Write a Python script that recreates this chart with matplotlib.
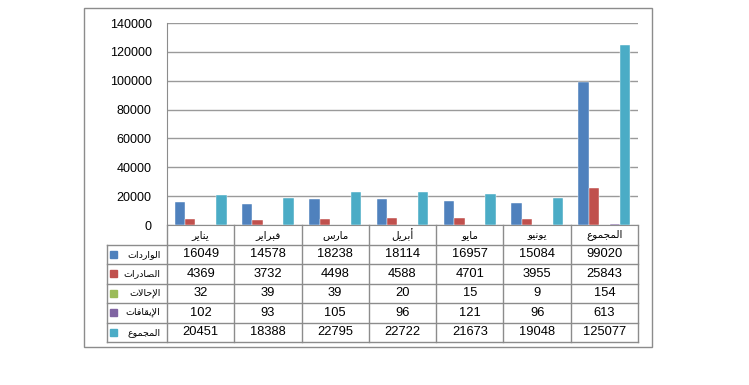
import matplotlib
matplotlib.use('Agg')
import matplotlib.pyplot as plt
import numpy as np

months = ['يناير', 'فبراير', 'مارس', 'أبريل', 'مايو', 'يونيو', 'المجموع']
series = ['الواردات', 'الصادرات', 'الإحالات', 'الإيقافات', 'المجموع']
imports = [16049, 14578, 18238, 18114, 16957, 15084, 99020]
exports = [4369, 3732, 4498, 4588, 4701, 3955, 25843]
referrals = [32, 39, 39, 20, 15, 9, 154]
stops = [102, 93, 105, 96, 121, 96, 613]
totals = [20451, 18388, 22795, 22722, 21673, 19048, 125077]
colors = ['#4F81BD', '#C0504D', '#9BBB59', '#8064A2', '#4BACC6']

# matplotlib has no arabic shaping, so do it by hand with presentation forms
FORMS = {
    'ا': ('\uFE8D', '\uFE8E', None, None),
    'أ': ('\uFE83', '\uFE84', None, None),
    'إ': ('\uFE87', '\uFE88', None, None),
    'ب': ('\uFE8F', '\uFE90', '\uFE91', '\uFE92'),
    'ت': ('\uFE95', '\uFE96', '\uFE97', '\uFE98'),
    'ج': ('\uFE9D', '\uFE9E', '\uFE9F', '\uFEA0'),
    'ح': ('\uFEA1', '\uFEA2', '\uFEA3', '\uFEA4'),
    'د': ('\uFEA9', '\uFEAA', None, None),
    'ر': ('\uFEAD', '\uFEAE', None, None),
    'س': ('\uFEB1', '\uFEB2', '\uFEB3', '\uFEB4'),
    'ص': ('\uFEB9', '\uFEBA', '\uFEBB', '\uFEBC'),
    'ع': ('\uFEC9', '\uFECA', '\uFECB', '\uFECC'),
    'ف': ('\uFED1', '\uFED2', '\uFED3', '\uFED4'),
    'ق': ('\uFED5', '\uFED6', '\uFED7', '\uFED8'),
    'ل': ('\uFEDD', '\uFEDE', '\uFEDF', '\uFEE0'),
    'م': ('\uFEE1', '\uFEE2', '\uFEE3', '\uFEE4'),
    'ن': ('\uFEE5', '\uFEE6', '\uFEE7', '\uFEE8'),
    'و': ('\uFEED', '\uFEEE', None, None),
    'ي': ('\uFEF1', '\uFEF2', '\uFEF3', '\uFEF4'),
    'لا': ('\uFEFB', '\uFEFC', None, None),
    'لأ': ('\uFEF7', '\uFEF8', None, None),
    'لإ': ('\uFEF9', '\uFEFA', None, None),
}


def shape(word):
    toks = []
    i = 0
    while i < len(word):
        if word[i] == 'ل' and i + 1 < len(word) and word[i:i + 2] in FORMS:
            toks.append(word[i:i + 2])
            i += 2
        else:
            toks.append(word[i])
            i += 1
    out = []
    for k, t in enumerate(toks):
        f = FORMS[t]
        prev = k > 0 and FORMS[toks[k - 1]][2] is not None
        nxt = k < len(toks) - 1 and f[2] is not None
        if prev and nxt:
            out.append(f[3])
        elif prev:
            out.append(f[1])
        elif nxt:
            out.append(f[2])
        else:
            out.append(f[0])
    return ''.join(out[::-1])


plt.rcParams['font.family'] = ['Liberation Sans', 'DejaVu Sans']

W, H = 749, 385
fig = plt.figure(figsize=(W / 100, H / 100), dpi=100)

# outer chart frame
fig.patches.append(plt.Rectangle((84 / W, 1 - 347 / H), 568 / W, 339 / H,
                                 transform=fig.transFigure, fill=False,
                                 edgecolor='#8c8c8c', lw=1))

ax = fig.add_axes([167 / W, 1 - 225 / H, 471 / W, 202 / H])
data = [imports, exports, referrals, stops, totals]
x = np.arange(len(months))
bw = 1 / 6.5
for k, vals in enumerate(data):
    ax.bar(x + (k - 2) * bw, vals, bw, color=colors[k], edgecolor='white', lw=0.3, zorder=3)
ax.set_xlim(-0.5, len(months) - 0.5)
ax.set_ylim(0, 140000)
ax.set_yticks(np.arange(0, 140001, 20000))
ax.set_xticks([])
ax.grid(axis='y', color='#9a9a9a', lw=1)
for s in ['top', 'right']:
    ax.spines[s].set_visible(False)
ax.spines['left'].set_color('#8c8c8c')
ax.spines['bottom'].set_color('#8c8c8c')
ax.tick_params(axis='y', length=0, pad=11, labelsize=9)

# data table under the plot
lw_col = 60 / 67.3
tx = fig.add_axes([107 / W, 1 - 342 / H, 531 / W, 117 / H])
tx.set_xlim(-0.5 - lw_col, len(months) - 0.5)
tx.set_ylim(6, 0)
tx.axis('off')
lc = '#8c8c8c'
for r in range(1, 7):
    tx.plot([-0.5 - lw_col, len(months) - 0.5], [r, r], color=lc, lw=1, clip_on=False)
for c in range(len(months) + 1):
    tx.plot([c - 0.5, c - 0.5], [0, 6], color=lc, lw=1, clip_on=False)
tx.plot([-0.5 - lw_col, -0.5 - lw_col], [1, 6], color=lc, lw=1, clip_on=False)

for c, m in enumerate(months):
    tx.text(c, 0.5, shape(m), ha='center', va='center', fontsize=7.5)
for r, (name, vals) in enumerate(zip(series, data)):
    y = r + 1.5
    tx.add_patch(plt.Rectangle((-0.5 - lw_col + 0.05, y - 0.18), 0.1, 0.36,
                               color=colors[r], clip_on=False))
    tx.text(-0.5 - 0.1, y, shape(name), ha='right', va='center', fontsize=6.8)
    for c, v in enumerate(vals):
        tx.text(c, y, str(v), ha='center', va='center', fontsize=9.3)

fig.savefig('out.png', dpi=100)
